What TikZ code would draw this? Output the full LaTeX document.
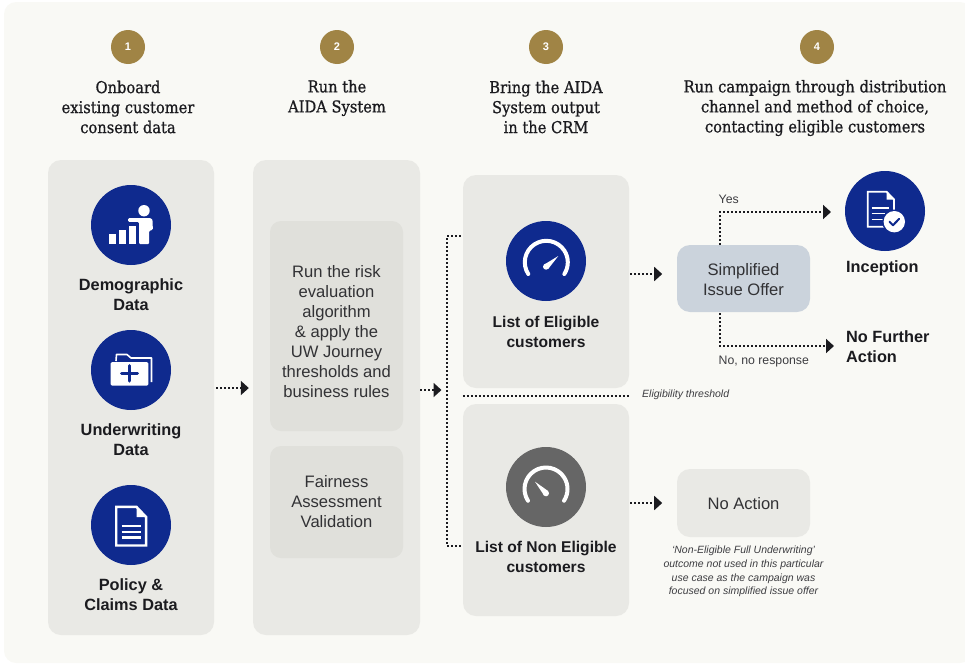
\documentclass[tikz,border=0pt]{standalone}
\usepackage{fontspec}
\setmainfont{Liberation Sans}
\newfontfamily\slabfont[FakeStretch=0.9,FakeBold=0.8]{DejaVu Serif}
\usetikzlibrary{arrows.meta,calc}
\definecolor{sheet}{HTML}{F9F9F5}
\definecolor{panel}{HTML}{E9E9E5}
\definecolor{inner}{HTML}{E0E0DB}
\definecolor{offerblue}{HTML}{CBD3DC}
\definecolor{navy}{HTML}{0F2A8E}
\definecolor{gaugegrey}{HTML}{666666}
\definecolor{gold}{HTML}{A08445}
\definecolor{ink}{HTML}{1B1B1F}
\tikzset{
  panelbox/.style={fill=panel,rounded corners=13pt,inner sep=0pt},
  innerbox/.style={fill=inner,rounded corners=11pt,inner sep=0pt},
  offerbox/.style={rounded corners=13pt,inner sep=0pt,minimum width=133pt},
  bodytext/.style={inner sep=0pt,align=center,text=ink!90,font=\fontsize{16.6}{20}\selectfont},
  badge/.style={circle,fill=gold,minimum size=34pt,inner sep=0pt,text=white,font=\bfseries\fontsize{11}{12}\selectfont},
  heading/.style={align=center,inner sep=0pt,text=ink,font=\slabfont\fontsize{16.3}{20}\selectfont},
  iconcircle/.style={circle,fill=navy,minimum size=80pt,inner sep=0pt},
  strong/.style={align=center,inner sep=0pt,text=ink,font=\bfseries\fontsize{16.3}{20}\selectfont},
  strongb/.style={strong,font=\bfseries\fontsize{15.6}{20}\selectfont},
  smalllabel/.style={inner sep=0pt,text=ink!85,font=\fontsize{12.3}{13}\selectfont},
  notelabel/.style={inner sep=0pt,align=center,text=ink!85,font=\itshape\fontsize{10.5}{13.7}\selectfont},
  flow/.style={line width=1.8pt,draw=ink,dash pattern=on 1.8pt off 2.2pt},
  flowtip/.style={flow,-{Triangle[length=8pt,width=14pt]}},
  iconline/.style={draw=white,line width=2.4pt},
}
\begin{document}
\begin{tikzpicture}[x=1pt,y=-1pt]
\useasboundingbox (0,0) rectangle (965,664);
\fill[sheet,rounded corners=12pt] (4,2) rectangle (972,663);

% step badges and headings
\node[badge] (b1) at (128,47) {1};
\node[badge] (b2) at (337,47) {2};
\node[badge] (b3) at (546,47) {3};
\node[badge] (b4) at (817,47) {4};
\node[heading] (h1) at (128,107) {Onboard\\existing customer\\consent data};
\node[heading] (h2) at (337,98) {Run the\\AIDA System};
\node[heading] (h3) at (546,107) {Bring the AIDA\\System output\\in the CRM};
\node[heading] (h4) at (815,108) {Run campaign through distribution\\channel and method of choice,\\contacting eligible customers};

% panels
\node[panelbox,minimum width=166pt,minimum height=475pt] (col1) at (131,397.5) {};
\node[panelbox,minimum width=167pt,minimum height=475pt] (col2) at (336.5,397.5) {};
\node[innerbox,minimum width=133pt,minimum height=210pt] (risk) at (336.5,326) {};
\node[bodytext] (risktext) at (336.5,331.5) {Run the risk\\evaluation\\algorithm\\\& apply the\\UW Journey\\thresholds and\\business rules};
\node[innerbox,minimum width=133pt,minimum height=112pt] (fair) at (336.5,502) {};
\node[bodytext] (fairtext) at (336.5,501.5) {Fairness\\Assessment\\Validation};
\node[panelbox,minimum width=166pt,minimum height=213pt] (elig) at (546,281.5) {};
\node[panelbox,minimum width=166pt,minimum height=212pt] (nonelig) at (546,510) {};
\node[offerbox,fill=offerblue,minimum height=67pt] (offer) at (743.5,278.5) {};
\node[bodytext] (offertext) at (743.5,279.5) {Simplified\\Issue Offer};
\node[offerbox,fill=panel,minimum height=68pt] (noaction) at (743.5,503) {};
\node[bodytext] (noactiontext) at (743.5,504) {No Action};

% icon circles
\node[iconcircle] (demo) at (131,225) {};
\node[iconcircle] (uw) at (131,370) {};
\node[iconcircle] (policy) at (131,525) {};
\node[iconcircle] (gauge1) at (546,261) {};
\node[iconcircle,fill=gaugegrey] (gauge2) at (546,487) {};
\node[iconcircle] (incept) at (885,211) {};

% labels
\node[strong] (ldemo) at (131,295) {Demographic\\Data};
\node[strong] (luw) at (131,440) {Underwriting\\Data};
\node[strong] (lpol) at (131,595) {Policy \&\\Claims Data};
\node[strongb] (lel) at (546,332) {List of Eligible\\customers};
\node[strongb] (lnon) at (546,557) {List of Non Eligible\\customers};
\node[strong,anchor=west] (linc) at (846,268.5) {Inception};
\node[strong,anchor=west,align=left] (lnfa) at (846,347) {No Further\\Action};
\node[smalllabel,anchor=west] (lyes) at (718.5,199) {Yes};
\node[smalllabel,anchor=west] (lno) at (718.5,362) {No, no response};
\node[notelabel,anchor=west] (lthr) at (642,394.5) {Eligibility threshold};
\node[notelabel] (lnote) at (743.5,571.5) {`Non-Eligible Full Underwriting'\\outcome not used in this particular\\use case as the campaign was\\focused on simplified issue offer};

% helper coordinates for connector levels
\coordinate (ya) at (0,388);
\coordinate (yb) at (0,390);
\coordinate (bus) at (447,390);
\coordinate (ytop) at (0,236);
\coordinate (ybot) at (0,546);
\coordinate (yoffer) at (0,274);
\coordinate (ynone) at (0,503);
\coordinate (yyes) at (0,212);
\coordinate (yno) at (0,346);
\coordinate (xoff) at (720,0);
\coordinate (xyes) at (831,0);
\coordinate (xno) at (834,0);
\coordinate (ythr) at (0,396);

% connectors
\draw[flowtip,shorten <=2pt,shorten >=4pt] (col1.east |- ya) -- (col2.west |- ya);
\draw[flowtip,shorten >=5.5pt] (col2.east |- yb) -- (bus);
\draw[flow,shorten <=2pt,shorten >=2pt] (elig.west |- ytop) -- (bus |- ytop) -- (bus |- ybot) -- (nonelig.west |- ybot);
\draw[flowtip,shorten <=1pt] (elig.east |- yoffer) -- ++(33,0) coordinate (offin);
\draw[flowtip] (xoff |- offer.north) -- (xoff |- yyes) -- (xyes |- yyes);
\draw[flowtip,shorten <=1pt] (xoff |- offer.south) -- (xoff |- yno) -- (xno |- yno);
\draw[flowtip,shorten <=1pt] (nonelig.east |- ynone) -- ++(33,0) coordinate (naIn);
\draw[flow] (elig.west |- ythr) -- (elig.east |- ythr);

% demographic icon
\fill[white] (109.3,234) rectangle (116,244);
\fill[white] (119.3,230) rectangle (126,244);
\fill[white] (129,226) rectangle (136,244);
\fill[white] (144,210.7) circle (5.7);
\fill[navy] (136,219.5) rectangle (139,244);
\fill[white,rounded corners=1.2pt] (128,218.2) -- (149,218.2) .. controls (152,218.2) and (152.7,220) .. (152.7,223) -- (152.8,230) -- (149.2,230.5) -- (149.2,244) -- (139,244) -- (139,221.8) -- (128,221.8) -- cycle;

% folder icon
\draw[white,line width=1.6pt,line join=round] (116,361) -- (116.5,354.5) -- (127,354.5) -- (131,358) -- (151.5,358) -- (151.5,382);
\fill[white,rounded corners=1.5pt] (110.7,362) -- (148.3,362) -- (148.3,385.7) -- (110.7,385.7) -- cycle;
\draw[navy,line width=3pt,line cap=round] (121.5,373.3) -- (137.5,373.3) (129.5,365.5) -- (129.5,381);

% policy document icon
\draw[iconline,line join=miter] (116.2,506.9) -- (136.5,506.9) -- (146.1,517) -- (146.1,545.5) -- (116.2,545.5) -- cycle;
\fill[white] (136.5,506) -- (147,517) -- (136.5,517) -- cycle;
\draw[white,line width=2.6pt] (121.7,526) -- (141,526) (121.7,532) -- (141,532) (121.7,537.7) -- (141,537.7);

% gauges
\draw[white,line width=4pt,line cap=round] (546.3,262.3) ++(147:21.5) arc[start angle=147,end angle=393,radius=21.5];
\fill[white] (546,266.7) circle (3);
\fill[white] (544,264.7) -- (558.3,256) -- (548.2,268.9) -- cycle;
\draw[white,line width=4pt,line cap=round] (546,489) ++(147:21.5) arc[start angle=147,end angle=393,radius=21.5];
\fill[white] (546,493.3) circle (3);
\fill[white] (548.1,491) -- (535,481.7) -- (544,495.4) -- cycle;

% inception icon
\draw[iconline,line width=1.8pt,line join=miter] (867.7,191.7) -- (886.5,191.7) -- (894,199.5) -- (894,226.7) -- (867.7,226.7) -- cycle;
\fill[white] (886.5,191) -- (895,199.7) -- (886.5,199.7) -- cycle;
\draw[white,line width=1.6pt] (871.7,207.7) -- (889,207.7) (871.7,213.3) -- (885,213.3) (871.7,219.3) -- (883,219.3);
\fill[navy] (894.3,221.7) circle (12.2);
\fill[white] (894.3,221.7) circle (10.7);
\draw[navy,line width=2pt,line cap=round,line join=round] (889.5,221.7) -- (893,225.2) -- (899.2,218.8);
\end{tikzpicture}
\end{document}
